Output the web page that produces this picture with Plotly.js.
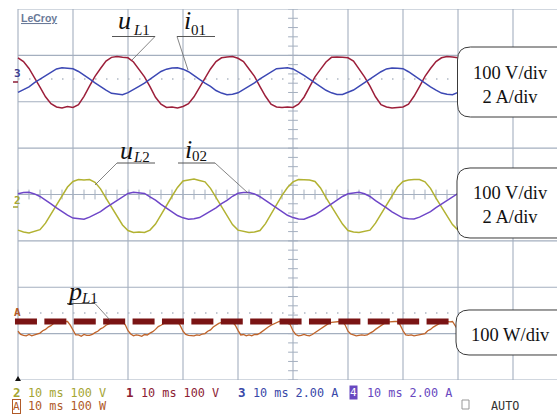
<!DOCTYPE html>
<html>
<head>
<meta charset="utf-8">
<script src="https://cdn.plot.ly/plotly-3.0.1.min.js"></script>
<style>html,body{margin:0;padding:0;background:#fff}#chart{width:557px;height:414px}</style>
</head>
<body>
<div id="chart"></div>
<script>
const T0 = 0;          // ms, first sample
const DT = 1;          // ms, sample step for voltages/currents
const DTP = 0.5;       // ms, sample step for power

// channel 1: uL1 (V)
const uL1 = [
 50, 42, 27, 8, -13, -34, -49, -56, -58, -55, -57, -51, -33, -11, 10, 27, 43, 51, 53, 51,
 50, 41, 25, 9, -12, -35, -50, -57, -56, -58, -55, -49, -34, -13, 8, 26, 42, 50, 52, 53,
 49, 42, 26, 10, -12, -33, -50, -56, -57, -56, -57, -50, -35, -12, 9, 25, 41, 51, 52, 51,
 50, 43, 27, 9, -11, -34, -51, -56, -58, -57, -56, -50, -33, -12, 10, 27, 42, 50, 53, 52,
 50, 42, 26, 8, -12, -34, -50, -57, -56, -57, -56, -49, -34, -12, 9, 26, 42, 51, 52
];
// channel 3: i01 (A)
const i01 = [
 -0.49, -0.37, -0.25, -0.07, 0.08, 0.25, 0.39, 0.52, 0.57, 0.55, 0.53, 0.41, 0.23, 0.09, -0.08, -0.25, -0.39, -0.53, -0.57, -0.59,
 -0.50, -0.38, -0.23, -0.09, 0.07, 0.24, 0.41, 0.51, 0.56, 0.57, 0.51, 0.40, 0.25, 0.07, -0.09, -0.23, -0.41, -0.52, -0.59, -0.57,
 -0.51, -0.37, -0.24, -0.08, 0.09, 0.23, 0.40, 0.53, 0.55, 0.57, 0.52, 0.39, 0.24, 0.08, -0.07, -0.24, -0.40, -0.51, -0.58, -0.58,
 -0.50, -0.39, -0.23, -0.07, 0.08, 0.25, 0.40, 0.52, 0.56, 0.55, 0.53, 0.40, 0.23, 0.09, -0.08, -0.25, -0.39, -0.52, -0.57, -0.59,
 -0.49, -0.38, -0.24, -0.08, 0.07, 0.24, 0.41, 0.52, 0.57, 0.56, 0.52, 0.41, 0.24, 0.08, -0.08, -0.24, -0.40, -0.53, -0.58
];
// channel 2: uL2 (V)
const uL2 = [
 -52, -56, -58, -55, -51, -37, -18, 3, 22, 41, 53, 57, 56, 57, 51, 37, 17, -3, -23, -41,
 -53, -57, -56, -57, -52, -39, -19, 2, 21, 40, 54, 56, 58, 55, 52, 38, 19, -2, -22, -40,
 -52, -55, -57, -56, -53, -38, -17, 1, 23, 40, 52, 57, 56, 56, 53, 39, 18, -1, -21, -39,
 -53, -56, -57, -55, -52, -37, -18, 2, 22, 41, 53, 56, 57, 57, 52, 38, 17, -2, -23, -40,
 -52, -57, -56, -56, -52, -38, -19, 3, 21, 40, 53, 57, 56, 56, 52, 37, 18, -3, -22
];
// channel 4: i02 (A)
const i02 = [
 0.53, 0.58, 0.59, 0.52, 0.41, 0.23, 0.09, -0.08, -0.25, -0.39, -0.52, -0.56, -0.57, -0.48, -0.37, -0.24, -0.07, 0.08, 0.25, 0.40,
 0.54, 0.59, 0.57, 0.54, 0.39, 0.25, 0.07, -0.09, -0.23, -0.41, -0.51, -0.57, -0.55, -0.50, -0.36, -0.22, -0.08, 0.10, 0.24, 0.42,
 0.55, 0.58, 0.58, 0.52, 0.40, 0.24, 0.08, -0.07, -0.24, -0.40, -0.50, -0.56, -0.57, -0.49, -0.38, -0.23, -0.06, 0.09, 0.26, 0.41,
 0.53, 0.57, 0.59, 0.53, 0.41, 0.23, 0.09, -0.08, -0.25, -0.39, -0.52, -0.55, -0.56, -0.48, -0.37, -0.24, -0.07, 0.08, 0.24, 0.40,
 0.54, 0.58, 0.58, 0.52, 0.40, 0.25, 0.08, -0.09, -0.24, -0.40, -0.51, -0.57, -0.56, -0.49, -0.38, -0.23, -0.08, 0.09, 0.25
];
// math channel A: pL1 (W), 0.5 ms step
const pL1 = [
 -21,-28,-30,-31,-28,-31,-29,-27,-25,-20,-17,-12,-9,-4,-2,-1,0,0,0,-8,
 -19,-29,-29,-32,-28,-30,-30,-28,-24,-21,-16,-13,-8,-5,-2,0,0,-1,0,-7,
 -20,-27,-31,-29,-30,-32,-28,-29,-25,-22,-17,-11,-8,-4,-1,-1,0,0,0,-9,
 -21,-28,-30,-30,-31,-29,-30,-27,-26,-21,-18,-12,-7,-4,-2,-1,0,0,-1,-8,
 -19,-29,-28,-31,-29,-31,-28,-28,-25,-20,-17,-12,-8,-5,-2,0,0,0,0,-7,
 -20,-28,-31,-30,-28,-30,-31,-28,-24,-21,-16,-12,-9,-4,-2,-1,0,0,0,-8,
 -21,-27,-29,-31,-30,-29,-30,-29,-25,-22,-17,-13,-8,-4,-1,-1,0,0,0,-8,
 -20,-29,-30,-29,-31,-30,-28,-27,-26,-20,-17,-12,-8,-5,-2,0,0,-1,0,-9,
 -19,-28,-31,-30,-29,-31,-29,-28,-25,-21,-18,-11,-8,-4,-2,-1,0,0,0,-8,
 -20,-28,-30,-31,-29,-30,-29,-28,-25,-21,-17,-12,-8,-4,-2,-1,0
];
// highlighted zero-power reference (thick dashed) : time span (ms) and level (W)
const pRefT = [-0.55, 78.5];
const pRefW = [0, 0];

// text
const boxTexts = ['100 V/div<br>2 A/div', '100 V/div<br>2 A/div', '100 W/div'];
const statusLine1 = [['2','10 ms 100 V'],['1','10 ms 100 V'],['3','10 ms 2.00 A'],['4','10 ms 2.00 A']];
const statusLine2 = [['A','10 ms 100 W']];

// ---- layout geometry (pixels of the 557x414 screen) ----
const W = 557, H = 414, ML = 10, MT = 9, MB = 34;
const PW = W - ML, PH = H - MT - MB;
const PXMS = 5.5, X0PX = 18;             // 10 ms/div = 55 px
const XR = [(ML - X0PX) / PXMS, (W - X0PX) / PXMS];
const DIVPX = PH / 8;
function P(px, py) { return {x: (px - ML) / PW, y: (H - MB - py) / PH}; }
function divOf(py) { return (H - MB - py) / DIVPX; }
// channel offsets in divisions (screen), scale in units/div
const CH = {
  c1: {off: divOf(81), sc: 100}, c3: {off: divOf(81), sc: 2},
  c2: {off: divOf(206), sc: 100}, c4: {off: divOf(206), sc: 2},
  cA: {off: divOf(321.5), sc: 100}
};
function yr(c) { return [(0 - c.off) * c.sc, (8 - c.off) * c.sc]; }

const C = {
  red: '#9c1f3a', blue: '#3c48b4', yel: '#b2b232', pur: '#6e46c8', brn: '#c0642a', dash: '#7a1414',
  grid: '#a4afbf', txtY: '#a5a532', txtR: '#8c1c34', txtB: '#3848a8', txtP: '#6848c0', txtA: '#b05a28'
};

const traces = [];
traces.push({x0: T0, dx: DT, y: i01, yaxis: 'y3', mode: 'lines', line: {color: C.blue, width: 1.5}});
traces.push({x0: T0, dx: DT, y: uL1, yaxis: 'y2', mode: 'lines', line: {color: C.red, width: 1.5}});
traces.push({x0: T0, dx: DT, y: i02, yaxis: 'y5', mode: 'lines', line: {color: C.pur, width: 1.5}});
traces.push({x0: T0, dx: DT, y: uL2, yaxis: 'y4', mode: 'lines', line: {color: C.yel, width: 1.5}});
traces.push({x0: T0, dx: DTP, y: pL1, yaxis: 'y6', mode: 'lines', line: {color: C.brn, width: 1.3}});
traces.push({x: pRefT, y: pRefW, yaxis: 'y6', mode: 'lines', line: {color: C.dash, width: 6, dash: '22px,7.4px'}});

// centre graticule ticks
const hx = [], hy = [], vx = [], vy = [];
for (let k = 0; k <= 49; k++) { hx.push(2 * k); hy.push(4); }
for (let k = 0; k <= 40; k++) { vx.push(50); vy.push(0.2 * k); }
traces.unshift({x: vx, y: vy, mode: 'markers', marker: {symbol: 'line-ew', size: 7, line: {color: C.grid, width: 1}}});
traces.unshift({x: hx, y: hy, mode: 'markers', marker: {symbol: 'line-ns', size: 7, line: {color: C.grid, width: 1}}});

const shapes = [];
// graticule
for (let k = 0; k <= 8; k++) shapes.push({type: 'line', xref: 'x', yref: 'y', x0: 0, x1: XR[1] + 5, y0: k, y1: k, layer: 'below', line: {color: C.grid, width: 1.1}});
for (let k = 0; k <= 10; k++) shapes.push({type: 'line', xref: 'x', yref: 'y', x0: 10 * k, x1: 10 * k, y0: 0, y1: 8, layer: 'below', line: {color: C.grid, width: 1.1}});
// dotted channel reference lines
[divOf(79), divOf(313)].forEach(function (yv) {
  shapes.push({type: 'line', xref: 'x', yref: 'y', x0: 0, x1: XR[1] + 5, y0: yv, y1: yv, layer: 'below', line: {color: '#b0b8c4', width: 1.4, dash: '1.5px,9.5px'}});
});
// rounded label boxes
function rr(x0, y0, x1, y1, r) {
  const p = function (x, y) { const q = P(x, y); return q.x.toFixed(5) + ',' + q.y.toFixed(5); };
  return 'M' + p(x0 + r, y0) + ' L' + p(x1, y0) + ' L' + p(x1, y1) + ' L' + p(x0 + r, y1) +
    ' Q' + p(x0, y1) + ' ' + p(x0, y1 - r) + ' L' + p(x0, y0 + r) + ' Q' + p(x0, y0) + ' ' + p(x0 + r, y0) + ' Z';
}
const boxes = [[457.5, 47, 620, 117], [457, 168, 620, 238], [456, 310, 620, 355]];
boxes.forEach(function (b) {
  shapes.push({type: 'path', xref: 'paper', yref: 'paper', path: rr(b[0], b[1], b[2], b[3], 13), fillcolor: '#ffffff', layer: 'above', line: {color: '#3a3a3a', width: 1}});
});
// label underlines and leaders
function seg(x0, y0, x1, y1, col, w) {
  const a = P(x0, y0), b = P(x1, y1);
  shapes.push({type: 'line', xref: 'paper', yref: 'paper', x0: a.x, y0: a.y, x1: b.x, y1: b.y, layer: 'above', line: {color: col, width: w}});
}
seg(112, 36.5, 155, 36.5, '#555', 1); seg(155, 36.5, 132, 60, '#666', 0.8);
seg(177, 36.5, 215, 36.5, '#555', 1); seg(177, 36.5, 188, 70, '#666', 0.8);
seg(117, 163, 155, 163, '#555', 1); seg(117, 163, 95, 185, '#666', 0.8);
seg(178, 163, 215, 163, '#555', 1); seg(215, 163, 248, 193, '#666', 0.8);
seg(67, 303.5, 95, 303.5, '#555', 1); seg(95, 303.5, 110, 320, '#666', 0.8);
// channel marker bars
seg(13, 82, 18, 82, C.txtR, 1.5);
seg(13, 207, 18, 207, C.txtY, 1.5);
// trigger marker
(function () {
  const a = P(15, 381), b = P(21, 381), c = P(18, 376);
  shapes.push({type: 'path', xref: 'paper', yref: 'paper', path: 'M' + a.x + ',' + a.y + ' L' + b.x + ',' + b.y + ' L' + c.x + ',' + c.y + ' Z', fillcolor: '#111', line: {width: 0}});
})();
// AUTO checkbox
(function () {
  const a = P(462, 400), b = P(469, 409);
  shapes.push({type: 'rect', xref: 'paper', yref: 'paper', x0: a.x, y0: a.y, x1: b.x, y1: b.y, line: {color: '#999', width: 1}});
})();

const ann = [];
function txt(s, px, py, o) {
  const q = P(px, py);
  ann.push(Object.assign({text: s, x: q.x, y: q.y, xref: 'paper', yref: 'paper', showarrow: false, xanchor: 'left', yanchor: 'middle', borderpad: 0}, o));
}
const serif = 'Liberation Serif, Times New Roman, serif';
const mono = 'DejaVu Sans Mono, monospace';
// box texts
txt(boxTexts[0], 510.5, 84.5, {xanchor: 'center', font: {family: serif, size: 18.5, color: '#111'}});
txt(boxTexts[1], 510.5, 205, {xanchor: 'center', font: {family: serif, size: 18.5, color: '#111'}});
txt(boxTexts[2], 510.5, 335, {xanchor: 'center', font: {family: serif, size: 18.5, color: '#111'}});
// signal labels
txt('<i>u</i>', 117, 20.2, {font: {family: serif, size: 26, color: '#111'}});
txt('<i>L</i>1', 132, 30.3, {font: {family: serif, size: 15, color: '#111'}});
txt('<i>i</i>', 183, 20.2, {font: {family: serif, size: 26, color: '#111'}});
txt('01', 190, 30.3, {font: {family: serif, size: 15, color: '#111'}});
txt('<i>u</i>', 119, 150.2, {font: {family: serif, size: 26, color: '#111'}});
txt('<i>L</i>2', 132, 157, {font: {family: serif, size: 15, color: '#111'}});
txt('<i>i</i>', 184, 149.2, {font: {family: serif, size: 26, color: '#111'}});
txt('02', 191, 156, {font: {family: serif, size: 15, color: '#111'}});
txt('<i>p</i>', 66, 291.2, {font: {family: serif, size: 26, color: '#111'}});
txt('<i>L</i>1', 80, 298, {font: {family: serif, size: 15, color: '#111'}});
// logo and channel markers
txt('<b><u>LeCroy</u></b>', 19.5, 18, {font: {family: 'Liberation Sans, Arial, sans-serif', size: 10.5, color: '#6a7a98'}});
txt('<b>3</b>', 12.5, 74, {font: {family: mono, size: 11, color: '#3b3b8f'}});
txt('<b>2</b>', 12.5, 200, {font: {family: mono, size: 11, color: C.txtY}});
txt('<b>A</b>', 12.5, 312, {font: {family: mono, size: 11, color: C.txtA}});
// status lines
const cols1 = [C.txtY, C.txtR, C.txtB, C.txtP];
const xs1 = [[12, 27], [125, 140], [237, 252], [349, 366]];
statusLine1.forEach(function (s, i) {
  if (i === 3) txt(s[0], xs1[i][0], 392.5, {font: {family: mono, size: 11, color: '#fff'}, bgcolor: C.txtP});
  else txt('<b>' + s[0] + '</b>', xs1[i][0], 392.5, {font: {family: mono, size: 12.5, color: cols1[i]}});
  txt(s[1], xs1[i][1], 392.5, {font: {family: mono, size: 11.8, color: cols1[i]}});
});
statusLine2.forEach(function (s) {
  txt(s[0], 12, 406, {font: {family: mono, size: 11, color: C.txtA}, bordercolor: C.txtA, borderwidth: 1});
  txt(s[1], 27, 406, {font: {family: mono, size: 11.8, color: C.txtA}});
});
txt('AUTO', 490, 406, {font: {family: mono, size: 11.8, color: '#333'}});

function yax(c) { return {range: yr(c), overlaying: 'y', visible: false, fixedrange: true}; }
const layout = {
  width: W, height: H, margin: {l: ML, r: 0, t: MT, b: MB, pad: 0},
  paper_bgcolor: '#ffffff', plot_bgcolor: '#ffffff', showlegend: false,
  xaxis: {range: XR, visible: false, fixedrange: true},
  yaxis: {range: [0, 8], visible: false, fixedrange: true},
  yaxis2: yax(CH.c1), yaxis3: yax(CH.c3), yaxis4: yax(CH.c2), yaxis5: yax(CH.c4), yaxis6: yax(CH.cA),
  shapes: shapes, annotations: ann
};
Plotly.newPlot('chart', traces, layout, {staticPlot: true, displayModeBar: false});
</script>
</body>
</html>
